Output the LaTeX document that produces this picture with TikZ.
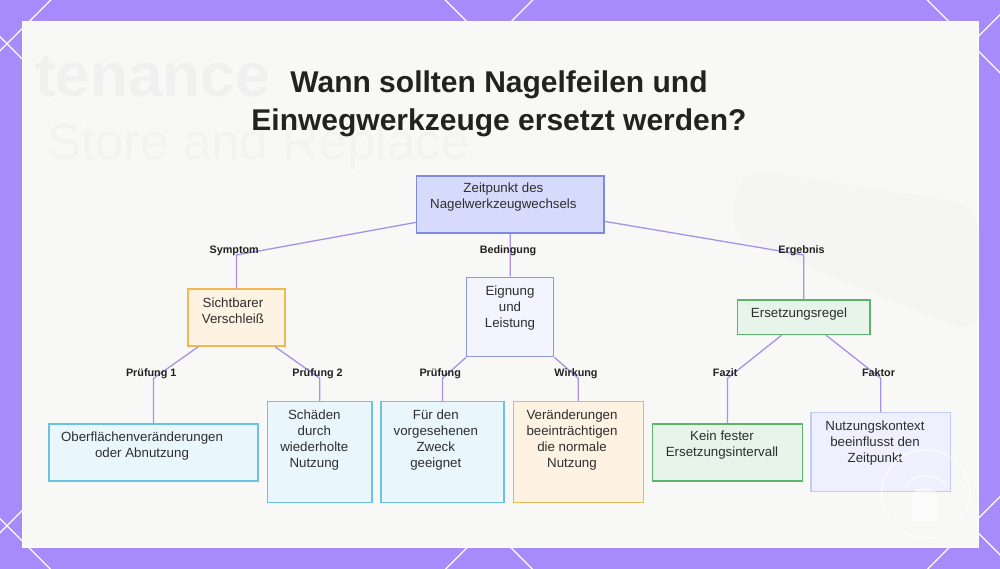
\documentclass[tikz,border=0pt]{standalone}
\usepackage{fontspec}
\setmainfont{Liberation Sans}
\usetikzlibrary{calc}

\definecolor{bgpurple}{HTML}{A78BFA}
\definecolor{panelc}{HTML}{F8F8F7}
\definecolor{ghostc}{HTML}{EEEEEE}
\definecolor{linkc}{HTML}{A892E8}
\definecolor{txtc}{HTML}{2E2E2E}
\definecolor{titlec}{HTML}{222222}
\definecolor{rootfill}{HTML}{D7DBFB}
\definecolor{rootdraw}{HTML}{7F89DD}
\definecolor{lavfill}{HTML}{F3F4FE}
\definecolor{lavdraw}{HTML}{8E98E2}
\definecolor{palefill}{HTML}{EEF0FD}
\definecolor{paledraw}{HTML}{C5CAF5}
\definecolor{orfill}{HTML}{FEF3E2}
\definecolor{ordraw}{HTML}{F0B753}
\definecolor{blfill}{HTML}{E9F7FD}
\definecolor{bldraw}{HTML}{6CC3E1}
\definecolor{grfill}{HTML}{E6F4EA}
\definecolor{grdraw}{HTML}{5DB36C}

\tikzset{
  box/.style={draw, line width=1.4pt, inner sep=0pt},
  rootbox/.style={box, fill=rootfill, draw=rootdraw},
  lavbox/.style={box, fill=lavfill, draw=lavdraw},
  palebox/.style={box, fill=palefill, draw=paledraw},
  orbox/.style={box, fill=orfill, draw=ordraw},
  blbox/.style={box, fill=blfill, draw=bldraw},
  grbox/.style={box, fill=grfill, draw=grdraw},
  txt/.style={align=center, inner sep=0pt, text=txtc, font=\fontsize{13.3}{16}\selectfont},
  lbl/.style={inner sep=0pt, text=titlec, font=\bfseries\fontsize{10.8}{12}\selectfont,
    text height=7.6pt, text depth=2.2pt, xshift=-2.3pt, yshift=4.4pt},
  link/.style={draw=linkc, line width=1.3pt},
  lattice/.style={draw=white, line width=1.2pt},
}

\begin{document}
\begin{tikzpicture}[x=1pt, y=-1pt]
  \useasboundingbox (0,0) rectangle (1000,569);
  % Backdrop
  \fill[bgpurple] (0,0) rectangle (1000,569);
  \begin{scope}
    \clip (0,0) rectangle (1000,569);
    \foreach \c in {-927.3,-445.3,36.7,518.7}
      \draw[lattice] (-100,{\c-100}) -- (1100,{\c+1100});
    \foreach \d in {50.7,532.7,1014.7,1496.7}
      \draw[lattice] (-100,{\d+100}) -- (1100,{\d-1100});
  \end{scope}
  \filldraw[fill=panelc, draw=white, line width=1pt] (22,22) rectangle (978,547);
  % Faded photo behind the chart
  \fill[ghostc!35!panelc, rounded corners=25pt] (742,168) -- (978,205) -- (978,335) -- (728,235) -- cycle;
  \node[anchor=base west, inner sep=0pt, text=ghostc!75!panelc, font=\bfseries\fontsize{62}{62}\selectfont] (ghost1) at (35,97) {tenance};
  \node[anchor=base west, inner sep=0pt, text=ghostc!55!panelc, font=\fontsize{51}{51}\selectfont] (ghost2) at (47,160) {Store and Replace};

  % Title
  \node[align=center, text=titlec, font=\bfseries\fontsize{30}{38}\selectfont, inner sep=0pt]
    (title) at (499,104.3) {Wann sollten Nagelfeilen und\\Einwegwerkzeuge ersetzt werden?};

  % Boxes
  \foreach \nm/\cx/\cy/\w/\h/\st/\tx/\ty/\txt in {
      root/510.3/204.5/187.5/57/rootbox/503.4/197/{Zeitpunkt des\\Nagelwerkzeugwechsels},
      sicht/236.5/317.5/97/57/orbox/233/311/{Sichtbarer\\Verschleiß},
      eign/510.2/317/87/79.4/lavbox/510/307.7/{Eignung\\und\\Leistung},
      ersr/803.8/317.2/132.3/34.3/grbox/799/313.7/{Ersetzungsregel},
      ober/153.5/452.5/209/57/blbox/142/445.8/{Oberflächenveränderungen\\oder Abnutzung},
      schad/319.8/452.2/104.3/101/blbox/314.3/440/{Schäden\\durch\\wiederholte\\Nutzung},
      fuer/442.5/452.2/123/101/blbox/435.8/440/{Für den\\vorgesehenen\\Zweck\\geeignet},
      veraend/578.3/452.2/130/101/orbox/572/440/{Veränderungen\\beeinträchtigen\\die normale\\Nutzung},
      kein/727.5/452.5/150.4/57/grbox/722/445.5/{Kein fester\\Ersetzungsintervall},
      nutz/880.8/452.2/139.7/79/palebox/875/443/{Nutzungskontext\\beeinflusst den\\Zeitpunkt}}{
    \node[\st, minimum width=\w pt, minimum height=\h pt] (\nm) at (\cx,\cy) {};
    \node[txt] (\nm-t) at (\tx,\ty) {\txt};
  }

  % Connectors
  \coordinate (lv1) at (0,255);
  \coordinate (lv2) at (0,378.3);
  \draw[link] ([yshift=11.3pt]root.south west) -- (sicht.north |- lv1) node[lbl] (l-sym) {Symptom} -- (sicht.north);
  \draw[link] (root.south) -- (root.south |- lv1) node[lbl] (l-bed) {Bedingung} -- (eign.north);
  \draw[link] ([yshift=12.3pt]root.south east) -- (ersr.north |- lv1) node[lbl] (l-erg) {Ergebnis} -- (ersr.north);
  \draw[link] ([xshift=-38.2pt]sicht.south) -- (ober.north |- lv2) node[lbl] (l-pr1) {Prüfung 1} -- (ober.north);
  \draw[link] ([xshift=38.5pt]sicht.south) -- (schad.north |- lv2) node[lbl] (l-pr2) {Prüfung 2} -- (schad.north);
  \draw[link] (eign.south west) -- (fuer.north |- lv2) node[lbl] (l-pr) {Prüfung} -- (fuer.north);
  \draw[link] (eign.south east) -- (veraend.north |- lv2) node[lbl] (l-wir) {Wirkung} -- (veraend.north);
  \draw[link] ([xshift=-22pt]ersr.south) -- (kein.north |- lv2) node[lbl] (l-faz) {Fazit} -- (kein.north);
  \draw[link] ([xshift=22pt]ersr.south) -- (nutz.north |- lv2) node[lbl] (l-fak) {Faktor} -- (nutz.north);

  % Badge in the corner
  \draw[white, line width=1pt, opacity=0.9] (925.5,494) circle [radius=44pt];
  \draw[white, line width=1.2pt, opacity=0.8] (905,487) .. controls (911,472) and (940,472) .. (946,487);
  \fill[white, opacity=0.55] (912,522) -- (912,499) .. controls (912,484) and (938,484) .. (938,499) -- (938,522) -- cycle;
\end{tikzpicture}
\end{document}
